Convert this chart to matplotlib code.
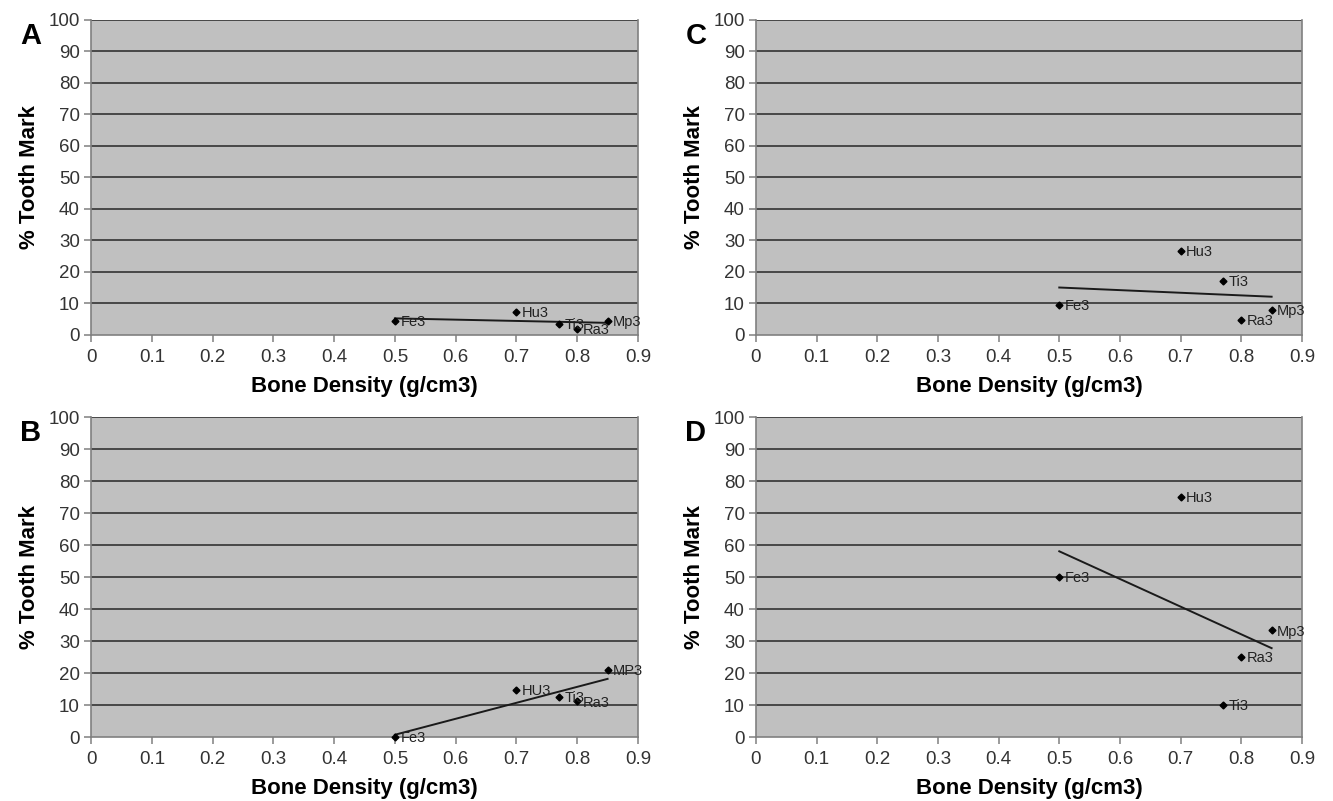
import numpy as np
import matplotlib
matplotlib.use("Agg")
import matplotlib.pyplot as plt

plt.rcParams['font.family'] = ['Liberation Sans', 'DejaVu Sans']

# bone density of each element (g/cm3)
density = [0.5, 0.7, 0.77, 0.8, 0.85]

# % tooth mark per panel
names_a = ["Fe3", "Hu3", "Ti3", "Ra3", "Mp3"]
tooth_a = [4.5, 7.3, 3.5, 2.0, 4.5]

names_b = ["Fe3", "HU3", "Ti3", "Ra3", "MP3"]
tooth_b = [0.0, 14.7, 12.5, 11.2, 21.0]

names_c = ["Fe3", "Hu3", "Ti3", "Ra3", "Mp3"]
tooth_c = [9.5, 26.7, 17.1, 4.8, 7.9]

names_d = ["Fe3", "Hu3", "Ti3", "Ra3", "Mp3"]
tooth_d = [50.0, 75.0, 10.0, 25.0, 33.3]

panels = [("A", names_a, tooth_a, [0.0683, 0.5818, 0.4103, 0.3933]),
          ("B", names_b, tooth_b, [0.0683, 0.0799, 0.4103, 0.3995]),
          ("C", names_c, tooth_c, [0.5671, 0.5818, 0.4096, 0.3933]),
          ("D", names_d, tooth_d, [0.5671, 0.0799, 0.4096, 0.3995])]

fig = plt.figure(figsize=(13.33, 8.01), dpi=100)

for letter, names, tooth, rect in panels:
	ax = fig.add_axes(rect)
	ax.set_facecolor("#c0c0c0")
	ax.set_xlim(0, 0.9)
	ax.set_ylim(0, 100)
	ax.set_xticks(np.arange(0, 0.91, 0.1))
	ax.set_xticklabels(["0"] + ["%.1f" % v for v in np.arange(0.1, 0.91, 0.1)])
	ax.set_yticks(np.arange(0, 101, 10))
	for yv in range(10, 101, 10):
		ax.axhline(yv, color="#333333", lw=1.2, zorder=1)

	#trend line (least squares) over the data range
	k, b = np.polyfit(density, tooth, 1)
	xs = np.array([min(density), max(density)])
	ax.plot(xs, k * xs + b, color="#1a1a1a", lw=1.4, zorder=2)

	ax.plot(density, tooth, "D", color="black", ms=3.5, zorder=3, clip_on=False)
	for x, y, n in zip(density, tooth, names):
		ax.annotate(n, (x, y), xytext=(4, -1), textcoords="offset points",
			fontsize=10.5, color="#222222", va="center", ha="left", zorder=4)

	for s in ax.spines.values():
		s.set_color("#808080")
		s.set_linewidth(1.2)
	ax.spines["top"].set_visible(False)
	ax.tick_params(axis="both", colors="#808080", labelcolor="#333333",
		labelsize=13.5, length=5, width=1.1, direction="out")
	ax.tick_params(axis="x", pad=5)
	ax.tick_params(axis="y", pad=3)

	ax.set_xlabel("Bone Density (g/cm3)", fontsize=16, fontweight="bold", labelpad=7)
	ax.set_ylabel("% Tooth Mark", fontsize=16, fontweight="bold", labelpad=6)

	fig.text(rect[0] - 0.053, rect[1] + rect[3] - 0.02, letter,
		fontsize=21, fontweight="bold", ha="left", va="center")

fig.savefig("out.png", dpi=100, facecolor="white")
